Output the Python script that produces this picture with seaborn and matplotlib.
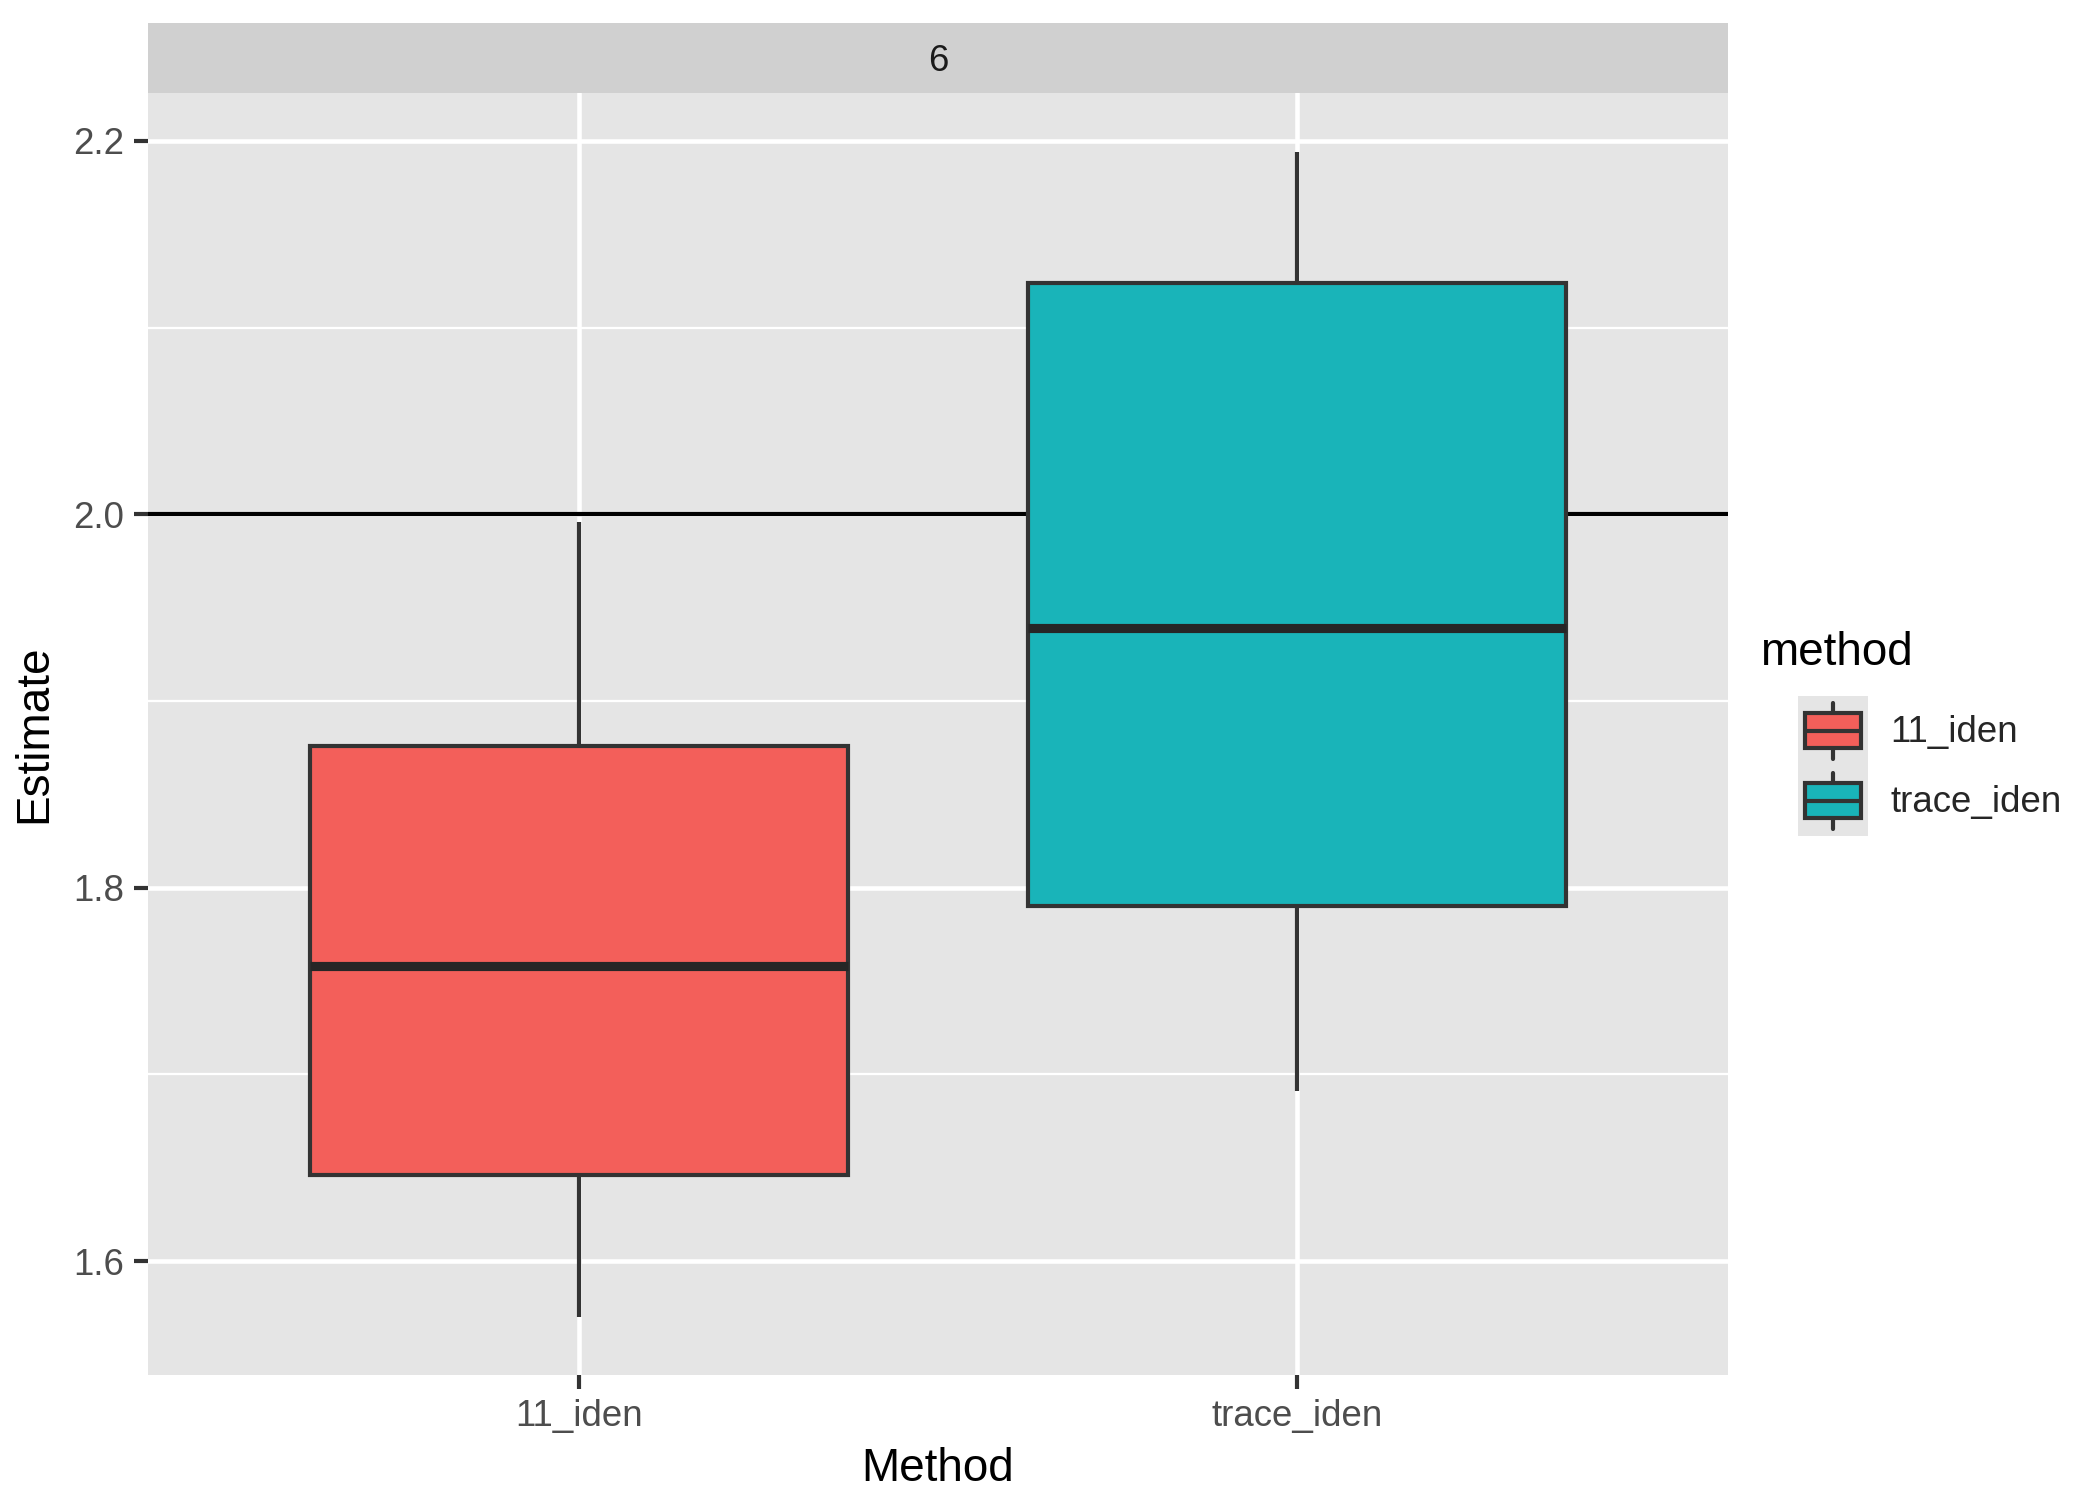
import pandas as pd
import matplotlib
matplotlib.use("Agg")
import matplotlib.pyplot as plt
import seaborn as sns
from matplotlib.patches import Rectangle, Patch
from matplotlib.lines import Line2D
from matplotlib.legend_handler import HandlerBase
from matplotlib.ticker import MultipleLocator

# Box statistics: lower whisker, Q1, median, Q3, upper whisker
methods = ["11_iden", "trace_iden"]
iden_vals = [1.570, 1.646, 1.758, 1.876, 1.996]
trace_vals = [1.691, 1.790, 1.939, 2.124, 2.194]
facet_label = "6"
true_value = 2.0
palette = {"11_iden": "#F35F5A", "trace_iden": "#19B4B9"}

df = pd.DataFrame({
    "method": [methods[0]] * len(iden_vals) + [methods[1]] * len(trace_vals),
    "estimate": iden_vals + trace_vals,
})

sns.set_theme(style="white")
plt.rcParams["font.family"] = ["Liberation Sans", "DejaVu Sans"]

EDGE = "#333333"
fig = plt.figure(figsize=(7, 5), dpi=300)
ax = fig.add_axes([0.0705, 0.0833, 0.7524, 0.8547])
ax.set_facecolor("#E5E5E5")

ax.axhline(true_value, color="black", lw=1.0, zorder=1.5)
sns.boxplot(data=df, x="method", y="estimate", hue="method", palette=palette,
            saturation=1, width=0.75, linecolor=EDGE, linewidth=1.0,
            showcaps=False, whis=1.5, legend=False, ax=ax,
            boxprops=dict(zorder=2),
            medianprops=dict(linewidth=2.2, color="#262626"),
            whiskerprops=dict(linewidth=1.0))

ax.set_xlim(-0.6, 1.6)
ax.set_ylim(1.539, 2.2257)
ax.yaxis.set_minor_locator(MultipleLocator(0.1))
ax.set_yticks([1.6, 1.8, 2.0, 2.2])
ax.set_yticklabels(["1.6", "1.8", "2.0", "2.2"])
ax.grid(which="major", color="white", lw=1.1, zorder=0)
ax.grid(which="minor", axis="y", color="white", lw=0.55, zorder=0)
ax.set_axisbelow(True)
for s in ax.spines.values():
    s.set_visible(False)
ax.tick_params(which="major", length=3.3, width=1.0, color=EDGE,
               labelsize=8.8, labelcolor="#4D4D4D", pad=2.5,
               left=True, bottom=True)
ax.tick_params(which="minor", length=0)
ax.set_xlabel("Method", fontsize=11, color="black", labelpad=3)
ax.set_ylabel("Estimate", fontsize=11, color="black", labelpad=4)

# facet strip
strip = fig.add_axes([0.0705, 0.938, 0.7524, 0.0467])
strip.set_facecolor("#D0D0D0")
strip.set_xticks([])
strip.set_yticks([])
for s in strip.spines.values():
    s.set_visible(False)
strip.text(0.5, 0.45, facet_label, ha="center", va="center",
           fontsize=8.8, color="#1A1A1A", transform=strip.transAxes)


class BoxKey(HandlerBase):
    # ggplot-like boxplot glyph on a grey key
    def create_artists(self, legend, orig, xd, yd, w, h, fontsize, trans):
        x0, y0 = -xd, -yd
        W, H = w, h
        bg = Rectangle((x0, y0), W, H, fc="#E5E5E5", ec="none", transform=trans)
        box = Rectangle((x0 + 0.1 * W, y0 + 0.25 * H), 0.8 * W, 0.5 * H,
                        fc=orig.get_facecolor(), ec=EDGE, lw=1.0, transform=trans)
        med = Line2D([x0 + 0.1 * W, x0 + 0.9 * W], [y0 + 0.5 * H] * 2,
                     color=EDGE, lw=1.0, transform=trans)
        lo = Line2D([x0 + 0.5 * W] * 2, [y0 + 0.1 * H, y0 + 0.25 * H],
                    color=EDGE, lw=1.0, transform=trans)
        hi = Line2D([x0 + 0.5 * W] * 2, [y0 + 0.75 * H, y0 + 0.9 * H],
                    color=EDGE, lw=1.0, transform=trans)
        return [bg, box, med, lo, hi]


fig.text(0.838, 0.565, "method", ha="left", va="center", fontsize=11,
         color="black")
handles = [Patch(facecolor=palette[m]) for m in methods]
leg = fig.legend(handles, methods, loc="upper left",
                 bbox_to_anchor=(0.856, 0.536), frameon=False,
                 handler_map={Patch: BoxKey()}, fontsize=8.8,
                 handlelength=1.91, handleheight=2.56,
                 labelspacing=0.0, handletextpad=0.62, borderpad=0,
                 borderaxespad=0)

fig.savefig("out.png", dpi=300)
